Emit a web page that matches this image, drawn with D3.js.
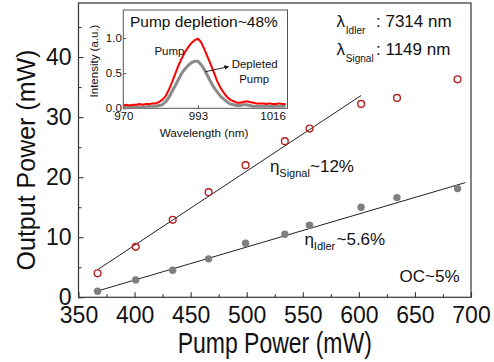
<!DOCTYPE html>
<html><head><meta charset="utf-8">
<script src="https://cdn.jsdelivr.net/npm/d3@7"></script>
<style>body{margin:0;background:#fff} text{font-family:"Liberation Sans",Arial,sans-serif;fill:#111}</style>
</head><body><svg id="c" width="494" height="362"></svg>
<script>
// ---- main data ----
const pumpPower   = [367, 401, 434, 466, 499, 534, 556, 602, 634, 688];
const signalPower = [4.0, 8.4, 12.9, 17.5, 22.0, 26.0, 28.1, 32.2, 33.2, 36.3];
const idlerPower  = [1.0, 2.9, 4.5, 6.4, 9.0, 10.5, 12.0, 15.0, 16.6, 18.1];
const signalFitX = [367, 602];
const signalFitY = [4.6, 33.6];
const idlerFitX = [367, 695];
const idlerFitY = [1.05, 19.1];
const xTicks = [350, 400, 450, 500, 550, 600, 650, 700];
const xMinor = [375, 425, 475, 525, 575, 625, 675];
const yTicks = [0, 10, 20, 30, 40];
const yMinor = [5, 15, 25, 35, 45];
// ---- inset data ----
const wavelength = [970,971,972,973,974,975,976,977,978,979,980,981,982,983,984,985,986,987,988,989,990,991,992,993,994,995,996,997,998,999,1000,1001,1002,1003,1004,1005,1006,1007,1008,1009,1010,1011,1012,1013,1014,1015,1016,1017,1018,1019,1020];
const pumpSpec = [0.04,0.05,0.04,0.05,0.05,0.06,0.05,0.06,0.06,0.07,0.07,0.09,0.12,0.17,0.26,0.37,0.49,0.61,0.71,0.80,0.87,0.93,0.97,0.99,0.94,0.84,0.73,0.62,0.50,0.38,0.29,0.22,0.16,0.12,0.10,0.08,0.08,0.09,0.10,0.09,0.08,0.07,0.07,0.07,0.06,0.07,0.06,0.06,0.07,0.06,0.06];
const deplSpec = [0.02,0.02,0.02,0.02,0.02,0.02,0.02,0.02,0.03,0.03,0.03,0.04,0.05,0.09,0.15,0.24,0.32,0.41,0.50,0.56,0.61,0.65,0.67,0.67,0.62,0.55,0.46,0.37,0.29,0.23,0.17,0.13,0.09,0.06,0.05,0.04,0.04,0.05,0.05,0.04,0.03,0.03,0.03,0.03,0.03,0.03,0.03,0.03,0.03,0.03,0.03];
const insetXTicks = [970, 993, 1016];
const insetYTicks = [0, 0.5, 1.0];

const svg = d3.select("#c");
const x = d3.scaleLinear([350, 700], [78.5, 471]);
const y = d3.scaleLinear([0, 49], [297.3, 3]);

// axes
const gx = svg.append("g").attr("transform", `translate(0,${y(0)})`)
  .call(d3.axisBottom(x).tickValues(xTicks).tickSizeInner(-5).tickSizeOuter(0).tickPadding(9).tickFormat(d3.format("d")));
const gxm = svg.append("g").attr("transform", `translate(0,${y(0)})`)
  .call(d3.axisBottom(x).tickValues(xMinor).tickSizeInner(-3).tickSizeOuter(0).tickFormat(""));
const gy = svg.append("g").attr("transform", `translate(${x(350)},0)`)
  .call(d3.axisLeft(y).tickValues(yTicks).tickSizeInner(-5).tickSizeOuter(0).tickPadding(7).tickFormat(d3.format("d")));
const gym = svg.append("g").attr("transform", `translate(${x(350)},0)`)
  .call(d3.axisLeft(y).tickValues(yMinor).tickSizeInner(-3).tickSizeOuter(0).tickFormat(""));
[gx, gxm, gy, gym].forEach(g => {
  g.select(".domain").remove();
  g.selectAll("line").attr("stroke", "#333").attr("stroke-width", 1.1);
  g.selectAll("text").style("font-size", "23px").attr("fill", "#111");
});
svg.append("rect").attr("x", x(350)).attr("y", y(49)).attr("width", x(700) - x(350)).attr("height", y(0) - y(49))
  .attr("fill", "none").attr("stroke", "#333").attr("stroke-width", 1.2);

// titles
svg.append("text").attr("transform", `translate(${(x(350)+x(700))/2},353) scale(1,1.25)`)
  .attr("text-anchor", "middle").style("font-size", "23px").text("Pump Power (mW)");
svg.append("text").attr("transform", `translate(35,160) rotate(-90)`)
  .attr("text-anchor", "middle").style("font-size", "25px").text("Output Power (mW)");

// fit lines
const line = d3.line().x(d => x(d[0])).y(d => y(d[1]));
svg.append("path").attr("d", line(d3.zip(signalFitX, signalFitY))).attr("stroke", "#222").attr("stroke-width", 1).attr("fill", "none");
svg.append("path").attr("d", line(d3.zip(idlerFitX, idlerFitY))).attr("stroke", "#222").attr("stroke-width", 1).attr("fill", "none");

// points
svg.append("g").selectAll("circle").data(d3.zip(pumpPower, idlerPower)).join("circle")
  .attr("cx", d => x(d[0])).attr("cy", d => y(d[1])).attr("r", 3.7).attr("fill", "#7f7f7f");
svg.append("g").selectAll("circle").data(d3.zip(pumpPower, signalPower)).join("circle")
  .attr("cx", d => x(d[0])).attr("cy", d => y(d[1])).attr("r", 3.4).attr("fill", "none")
  .attr("stroke", "#b22222").attr("stroke-width", 1.4);

// annotations
function sub(tx, ty, main, subs, rest, fs, ss, subDy, restX) {
  svg.append("text").attr("x", tx).attr("y", ty).style("font-size", fs + "px").text(main);
  svg.append("text").attr("x", tx + fs * 0.55).attr("y", ty + subDy).style("font-size", ss + "px").text(subs);
  svg.append("text").attr("x", restX).attr("y", ty).style("font-size", fs + "px").text(rest);
}
sub(336.5, 27.3, "λ", "Idler", ": 7314 nm", 17, 10, 6.7, 376);
sub(336.5, 55, "λ", "Signal", ": 1149 nm", 17, 10, 6.7, 376);
sub(270, 171.7, "η", "Signal", "~12%", 17, 11, 5.2, 310);
sub(304.5, 244.5, "η", "Idler", "~5.6%", 17, 11, 5.5, 336.5);
svg.append("text").attr("x", 399.5).attr("y", 281.7).style("font-size", "17px").text("OC~5%");

// ---- inset ----
const xi = d3.scaleLinear([970, 1020.6], [123.3, 287.5]);
const yi = d3.scaleLinear([0, 1.4], [108.3, 10]);
const ins = svg.append("g");
ins.append("rect").attr("x", xi(970)).attr("y", yi(1.4)).attr("width", xi(1020.6) - xi(970)).attr("height", yi(0) - yi(1.4))
  .attr("fill", "#fff").attr("stroke", "#555").attr("stroke-width", 1);
const gix = ins.append("g").attr("transform", `translate(0,${yi(0)})`)
  .call(d3.axisBottom(xi).tickValues(insetXTicks).tickSizeInner(-3).tickSizeOuter(0).tickPadding(4).tickFormat(d3.format("d")));
const giy = ins.append("g").attr("transform", `translate(${xi(970)},0)`)
  .call(d3.axisLeft(yi).tickValues(insetYTicks).tickSizeInner(-3).tickSizeOuter(0).tickPadding(1.5).tickFormat(d3.format(".1f")));
[gix, giy].forEach(g => {
  g.select(".domain").remove();
  g.selectAll("line").attr("stroke", "#555");
  g.selectAll("text").style("font-size", "11.5px").attr("fill", "#222");
});
const sl = d3.line().x(d => xi(d[0])).y(d => yi(d[1]));
ins.append("path").attr("d", sl(d3.zip(wavelength, deplSpec))).attr("fill", "none").attr("stroke", "#8a8a8a").attr("stroke-width", 3).attr("stroke-linejoin", "round");
ins.append("path").attr("d", sl(d3.zip(wavelength, pumpSpec))).attr("fill", "none").attr("stroke", "#ff0000").attr("stroke-width", 2).attr("stroke-linejoin", "round");

ins.append("text").attr("x", 130).attr("y", 27).style("font-size", "15.5px").text("Pump depletion~48%");
ins.append("text").attr("x", 204).attr("y", 136.5).attr("text-anchor", "middle").style("font-size", "11.7px").attr("fill", "#222").text("Wavelength (nm)");
ins.append("text").attr("transform", "translate(98,61) rotate(-90)").attr("text-anchor", "middle").style("font-size", "11.5px").attr("fill", "#222").text("Intensity (a.u.)");
ins.append("text").attr("x", xi(979.6)).attr("y", yi(0.76)).style("font-size", "11.5px").text("Pump");
ins.append("text").attr("x", xi(1003.4)).attr("y", yi(0.57)).style("font-size", "11.5px").text("Depleted");
ins.append("text").attr("x", xi(1005.7)).attr("y", yi(0.365)).style("font-size", "11.5px").text("Pump");
svg.append("defs").append("marker").attr("id", "ah").attr("viewBox", "0 0 10 10").attr("refX", 9).attr("refY", 5)
  .attr("markerWidth", 5).attr("markerHeight", 5).attr("orient", "auto")
  .append("path").attr("d", "M0,0 L10,5 L0,10 z").attr("fill", "#111");
ins.append("line").attr("x1", xi(995.2)).attr("y1", yi(0.52)).attr("x2", xi(1002.4)).attr("y2", yi(0.593))
  .attr("stroke", "#111").attr("stroke-width", 0.9).attr("marker-end", "url(#ah)");
</script></body></html>
